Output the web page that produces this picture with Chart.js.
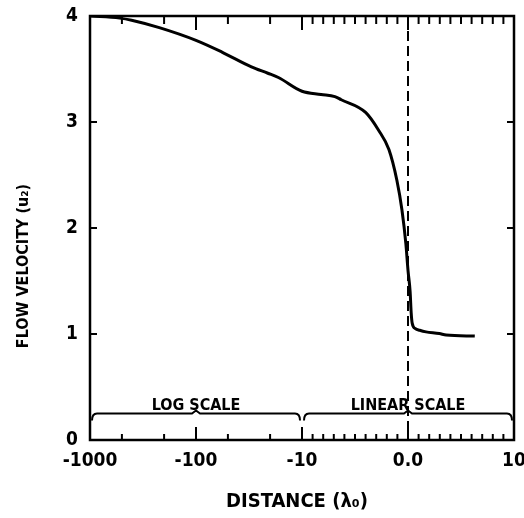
<!DOCTYPE html>
<html>
<head>
<meta charset="utf-8">
<script src="https://cdn.jsdelivr.net/npm/chart.js@4.4.0/dist/chart.umd.min.js"></script>
<style>
  html, body { margin: 0; padding: 0; background: #fff; }
  #wrap { width: 524px; height: 518px; }
</style>
</head>
<body>
<div id="wrap"><canvas id="chart"></canvas></div>
<script>
// distance in lambda_0, log scale from -1000 to -10, linear from -10 to 10
const distance = [-1000, -525, -405, -222, -100, -57, -30, -21, -16.7, -10,
  -8.2, -6.9, -6.3, -4.0, -2.76, -1.8, -1.05, -0.57, -0.2, 0, 0.2, 0.3, 0.4,
  0.7, 1.1, 1.7, 2.95, 3.6, 6.3];
const velocity = [4.0, 3.98, 3.96, 3.89, 3.77, 3.66, 3.52, 3.46, 3.42, 3.29,
  3.26, 3.24, 3.21, 3.09, 2.92, 2.74, 2.45, 2.17, 1.85, 1.6, 1.4, 1.2, 1.1,
  1.05, 1.035, 1.02, 1.005, 0.99, 0.98];

const xMajorTicks = [-1000, -100, -10, 0, 10];
const xMajorLabels = ['-1000', '-100', '-10', '0.0', '10'];
const xMinorTicks = [-500, -200, -50, -20,
  -9, -8, -7, -6, -5, -4, -3, -2, -1, 1, 2, 3, 4, 5, 6, 7, 8, 9];
const yTicks = [0, 1, 2, 3, 4];
const scaleBands = [
  { label: 'LOG SCALE', from: -1000, to: -10, mid: -100 },
  { label: 'LINEAR SCALE', from: -10, to: 10, mid: 0 },
];
const bandLevel = 0.25;

const FONT = '"DejaVu Sans Condensed", "DejaVu Sans", sans-serif';

// map distance onto one axis: log part takes u 0..2, linear part u 2..4
function toU(d) {
  return d <= -10 ? 3 - Math.log10(-d) : 3 + d / 10;
}

const decorations = {
  id: 'decorations',
  beforeDatasetsDraw(chart) {
    const { ctx, chartArea: a, scales: { x } } = chart;
    const p0 = x.getPixelForValue(toU(0));
    ctx.save();
    ctx.strokeStyle = '#000';
    ctx.lineWidth = 2;
    ctx.setLineDash([10, 5]);
    ctx.beginPath();
    ctx.moveTo(p0, a.top);
    ctx.lineTo(p0, a.bottom);
    ctx.stroke();
    ctx.restore();
  },
  afterDatasetsDraw(chart) {
    const { ctx, chartArea: a, scales: { x, y } } = chart;
    const px = d => x.getPixelForValue(toU(d));
    ctx.save();
    ctx.strokeStyle = '#000';
    ctx.fillStyle = '#000';

    // frame
    ctx.lineWidth = 2.5;
    ctx.strokeRect(a.left, a.top, a.right - a.left, a.bottom - a.top);

    // inward ticks
    ctx.lineWidth = 2;
    ctx.beginPath();
    xMajorTicks.forEach(d => {
      const p = px(d);
      ctx.moveTo(p, a.bottom); ctx.lineTo(p, a.bottom - 13);
      ctx.moveTo(p, a.top); ctx.lineTo(p, a.top + 14);
    });
    xMinorTicks.forEach(d => {
      const p = px(d);
      ctx.moveTo(p, a.bottom); ctx.lineTo(p, a.bottom - 6);
      ctx.moveTo(p, a.top); ctx.lineTo(p, a.top + 8);
    });
    yTicks.slice(1, -1).forEach(v => {
      const p = y.getPixelForValue(v);
      ctx.moveTo(a.left, p); ctx.lineTo(a.left + 7, p);
      ctx.moveTo(a.right, p); ctx.lineTo(a.right - 7, p);
    });
    ctx.stroke();

    // scale brackets
    const yb = y.getPixelForValue(bandLevel);
    ctx.lineWidth = 2;
    ctx.font = 'bold 16px ' + FONT;
    ctx.textAlign = 'center';
    ctx.textBaseline = 'alphabetic';
    scaleBands.forEach(b => {
      const x1 = Math.max(px(b.from) + 2, a.left + 1.5);
      const x2 = Math.min(px(b.to) - 2, a.right - 1.5);
      const xm = px(b.mid);
      ctx.beginPath();
      ctx.moveTo(x1, yb + 7);
      ctx.quadraticCurveTo(x1, yb, x1 + 5, yb);
      ctx.lineTo(xm - 4, yb);
      ctx.lineTo(xm, yb - 3);
      ctx.lineTo(xm + 4, yb);
      ctx.lineTo(x2 - 5, yb);
      ctx.quadraticCurveTo(x2, yb, x2, yb + 7);
      ctx.stroke();
      ctx.fillText(b.label, xm, yb - 4);
    });

    // axis titles
    ctx.font = 'bold 20px ' + FONT;
    ctx.textBaseline = 'middle';
    ctx.fillText('DISTANCE (\u03bb\u2080)', 297, 502);
    ctx.translate(24, 266);
    ctx.rotate(-Math.PI / 2);
    ctx.font = 'bold 16px ' + FONT;
    ctx.fillText('FLOW VELOCITY (u\u2082)', 0, 0);
    ctx.restore();
  },
};

new Chart(document.getElementById('chart'), {
  type: 'line',
  data: {
    datasets: [{
      data: distance.map((d, i) => ({ x: toU(d), y: velocity[i] })),
      borderColor: '#000',
      borderWidth: 3,
      pointRadius: 0,
      cubicInterpolationMode: 'monotone',
      fill: false,
    }],
  },
  options: {
    responsive: true,
    maintainAspectRatio: false,
    animation: false,
    layout: { padding: { left: 0, right: 10, top: 16, bottom: 0 } },
    plugins: { legend: { display: false }, tooltip: { enabled: false } },
    scales: {
      x: {
        type: 'linear',
        min: 0,
        max: 4,
        grid: { display: false, drawTicks: false },
        border: { display: false },
        afterBuildTicks: s => { s.ticks = xMajorTicks.map(d => ({ value: toU(d) })); },
        afterFit: s => { s.height = 78; s.paddingLeft = 0; s.paddingRight = 0; },
        ticks: {
          autoSkip: false,
          maxRotation: 0,
          padding: 10,
          color: '#000',
          font: { family: FONT, size: 19, weight: 'bold' },
          callback: (v, i) => xMajorLabels[i],
        },
      },
      y: {
        min: 0,
        max: 4,
        grid: { display: false, drawTicks: false },
        border: { display: false },
        afterBuildTicks: s => { s.ticks = yTicks.map(v => ({ value: v })); },
        afterFit: s => { s.width = 90; s.paddingTop = 0; s.paddingBottom = 0; },
        ticks: {
          padding: 12,
          color: '#000',
          font: { family: FONT, size: 19, weight: 'bold' },
          callback: v => String(v),
        },
      },
    },
  },
  plugins: [decorations],
});
</script>
</body>
</html>
